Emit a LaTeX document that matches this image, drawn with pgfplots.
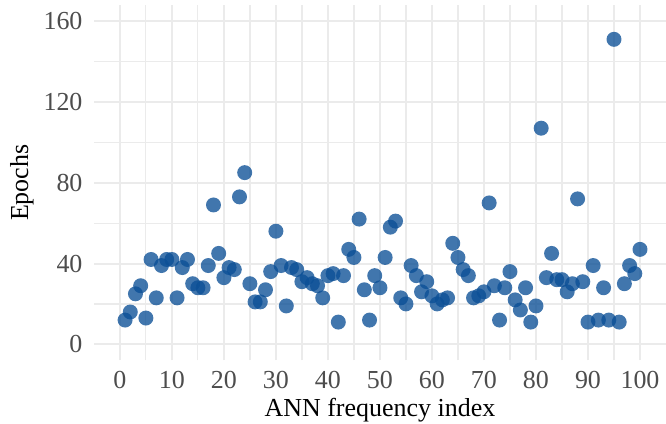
\documentclass[border=0pt]{standalone}
\usepackage{pgfplots}
\pgfplotsset{compat=1.18}
\usepackage{fontspec}
\setmainfont{Liberation Serif}
\definecolor{pt}{HTML}{0B4F96}
\definecolor{grid}{HTML}{EBEBEB}
\definecolor{tick}{HTML}{4D4D4D}
\begin{document}
\begin{tikzpicture}
\begin{axis}[
  name=ax,
  scale only axis,
  width=286.5pt, height=178pt,
  xmin=-5, xmax=105, ymin=-8, ymax=168,
  xtick={0,10,...,100}, ytick={0,40,...,160},
  minor xtick={5,15,...,95}, minor ytick={20,60,100,140},
  grid=both,
  major grid style={draw=grid, line width=1pt},
  minor grid style={draw=grid, line width=0.6pt},
  axis line style={draw=none},
  tick style={draw=none},
  major tick length=0pt, minor tick length=0pt,
  /pgf/number format/assume math mode=true,
  tick label style={font=\fontsize{13}{15}\selectfont, text=tick},
  xticklabel style={anchor=base, yshift=-14pt},
  yticklabel style={anchor=east, inner sep=0pt, xshift=-5.5pt},
  xlabel={ANN frequency index},
  ylabel={Epochs},
  label style={font=\fontsize{13}{15}\selectfont, text=black},
  xlabel style={at={(axis description cs:0.5,-0.1573)}, anchor=base},
  ylabel style={at={(axis description cs:-0.1148,0.5)}, anchor=base},
]
\addplot[only marks, mark=*, mark size=3.75pt,
  mark options={fill=pt, draw opacity=0, fill opacity=0.78}] table {
x y
1 12
2 16
3 25
4 29
5 13
6 42
7 23
8 39
9 42
10 42
11 23
12 38
13 42
14 30
15 28
16 28
17 39
18 69
19 45
20 33
21 38
22 37
23 73
24 85
25 30
26 21
27 21
28 27
29 36
30 56
31 39
32 19
33 38
34 37
35 31
36 33
37 30
38 29
39 23
40 34
41 35
42 11
43 34
44 47
45 43
46 62
47 27
48 12
49 34
50 28
51 43
52 58
53 61
54 23
55 20
56 39
57 34
58 26
59 31
60 24
61 20
62 22
63 23
64 50
65 43
66 37
67 34
68 23
69 24
70 26
71 70
72 29
73 12
74 28
75 36
76 22
77 17
78 28
79 11
80 19
81 107
82 33
83 45
84 32
85 32
86 26
87 30
88 72
89 31
90 11
91 39
92 12
93 28
94 12
95 151
96 11
97 30
98 39
99 35
100 47
};
\end{axis}
\pgfresetboundingbox
\path ([xshift=-47pt,yshift=-31.5pt]ax.south west) rectangle ([yshift=2.5pt]ax.north east);
\end{tikzpicture}
\end{document}
